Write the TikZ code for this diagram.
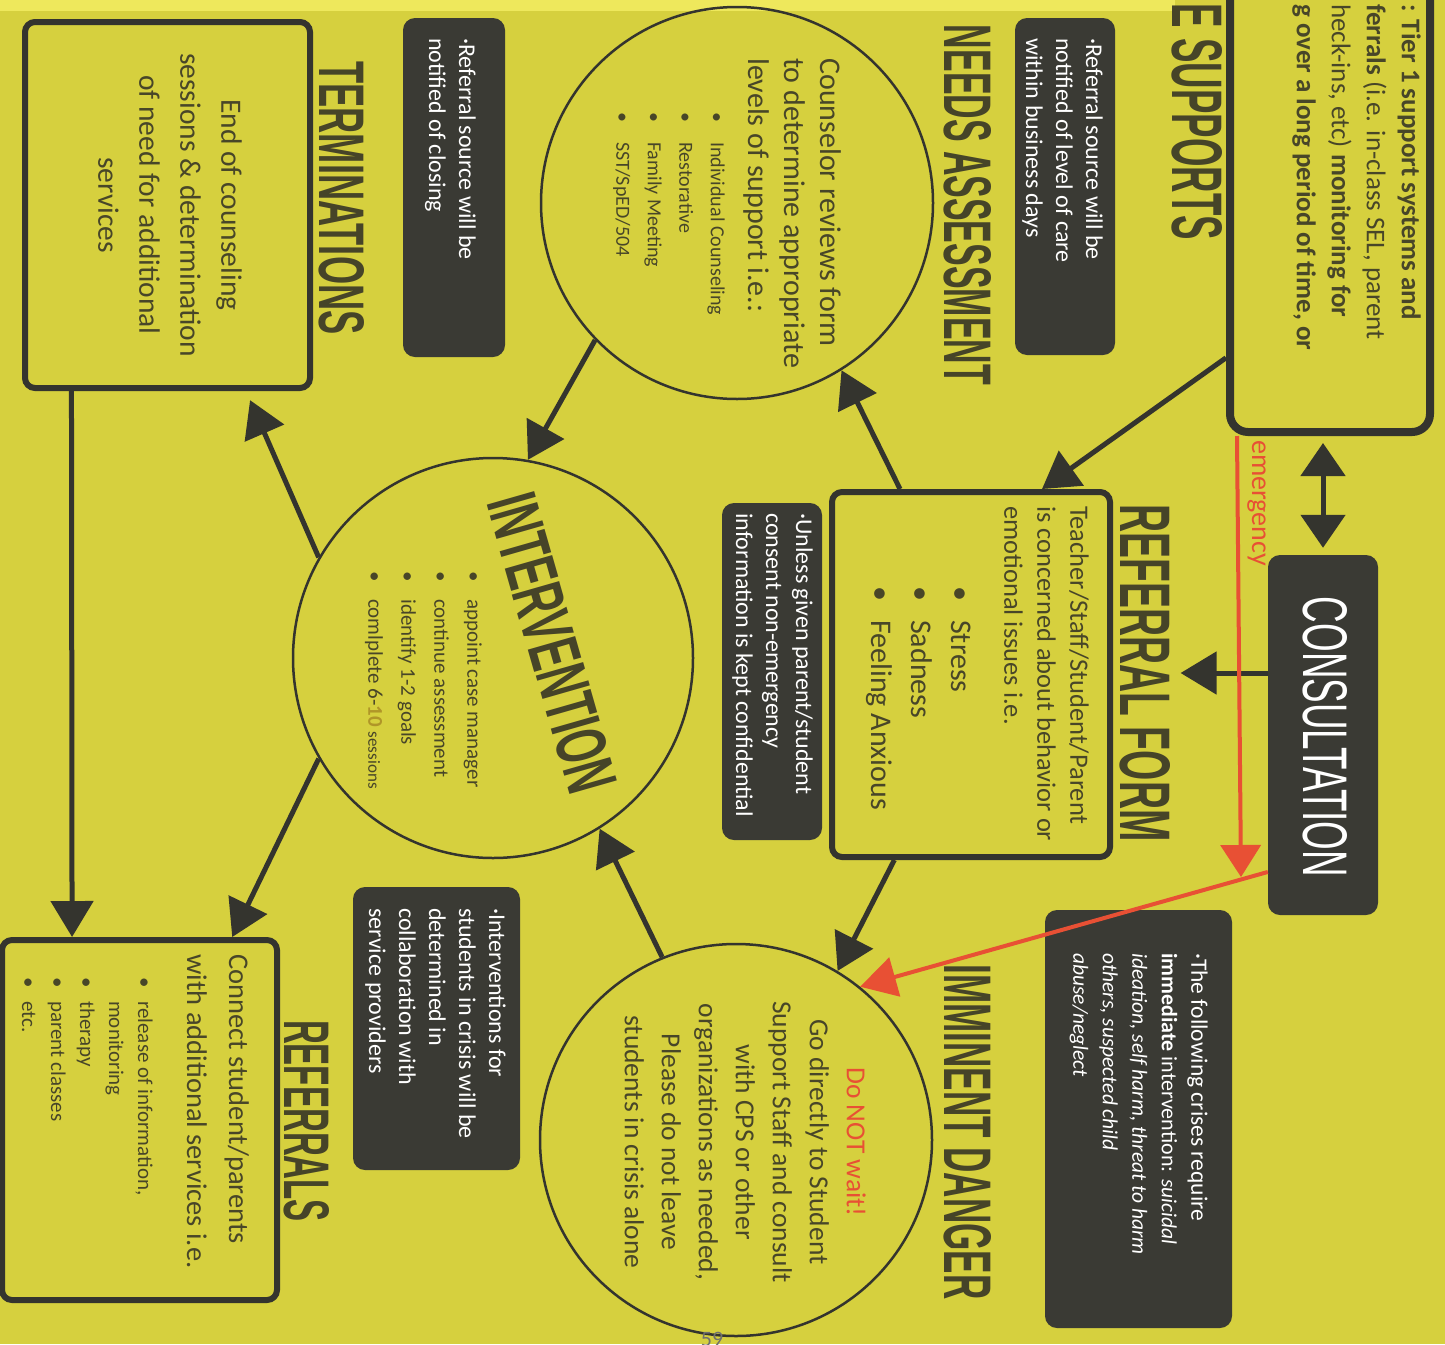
\documentclass[tikz,border=0pt]{standalone}
\usepackage{fontspec}
\setmainfont{Carlito}
\newfontfamily\headfont{Liberation Sans}
\usetikzlibrary{arrows.meta,calc,positioning}

\definecolor{paper}{RGB}{214,208,62}
\definecolor{paperhi}{RGB}{238,232,92}
\definecolor{ink}{RGB}{52,52,46}
\definecolor{textink}{RGB}{72,70,40}
\definecolor{headink}{RGB}{70,68,40}
\definecolor{notefill}{RGB}{58,58,52}
\definecolor{alarm}{RGB}{232,80,52}
\definecolor{tenink}{RGB}{176,150,40}

\newcommand{\hd}[3]{\resizebox{#1}{#2}{\headfont\bfseries #3}}
\newcommand{\bul}[1]{\makebox[#1][l]{\textbullet}}
\newcommand{\crisisit}[1]{{\fontsize{21.5pt}{29.5pt}\selectfont\itshape #1}}

\begin{document}
\begin{tikzpicture}[x=1pt, y=-1pt,
    frame/.style={draw=ink, line width=6pt, rounded corners=10pt, inner sep=0pt},
    note/.style={fill=notefill, rounded corners=12pt, inner sep=0pt},
    hub/.style={circle, draw=ink, line width=2.5pt, inner sep=0pt, minimum size=392pt},
    vtext/.style={rotate=-90, inner sep=0pt, anchor=north west, align=left, text=textink},
    ntext/.style={vtext, text=white},
    head/.style={rotate=-90, inner sep=0pt, text=headink},
    flow/.style={draw=ink, line width=5pt, -{Triangle[length=36pt,width=42pt]}},
    flowboth/.style={draw=ink, line width=5pt, {Triangle[length=33pt,width=44pt]}-{Triangle[length=33pt,width=44pt]}},
    alert/.style={draw=alarm, line width=4pt, -{Triangle[length=32pt,width=40pt]}}]

    % page
    \useasboundingbox (0,0) rectangle (1445,1344);
    \fill[paper] (0,0) rectangle (1445,1344);
    \fill[paperhi] (0,0) rectangle (1175,11);

    % boxes
    \node[frame, line width=8pt, rounded corners=18pt, minimum width=200pt, minimum height=452pt] (tier) at (1330,206) {};
    \node[frame, minimum width=278pt, minimum height=365pt] (form) at (971,674.5) {};
    \node[frame, minimum width=285pt, minimum height=366pt] (term) at (167.5,205) {};
    \node[frame, minimum width=275pt, minimum height=360pt] (refs) at (139.5,1120) {};
    \node[note, minimum width=110pt, minimum height=360pt] (consult) at (1323,735) {};

    % circles
    \node[hub] (needs) at (737,203) {};
    \node[hub, minimum size=400pt] (interv) at (493,658) {};
    \node[hub] (immi) at (736,1140) {};

    % dark notes
    \node[note, minimum width=100pt, minimum height=337pt] (carenote) at (1065,186.5) {};
    \node[note, minimum width=102pt, minimum height=339pt] (closenote) at (454,187.5) {};
    \node[note, minimum width=100pt, minimum height=337pt] (consentnote) at (772,671.5) {};
    \node[note, minimum width=187pt, minimum height=418pt] (crisisnote) at (1138.5,1119) {};
    \node[note, minimum width=167pt, minimum height=283pt] (collabnote) at (436.5,1028.5) {};

    % headings
    \node[head] (supphead) at (1197,122) {\hd{236pt}{50pt}{E SUPPORTS}};
    \node[head] (needshead) at (968,205) {\hd{360pt}{47pt}{NEEDS ASSESSMENT}};
    \node[head] (formhead) at (1145,673) {\hd{337pt}{50pt}{REFERRAL FORM}};
    \node[head] (dangerhead) at (968,1132) {\hd{335pt}{47pt}{IMMINENT DANGER}};
    \node[head] (termhead) at (342,198) {\hd{273pt}{45pt}{TERMINATIONS}};
    \node[head] (refshead) at (307,1121) {\hd{202pt}{45pt}{REFERRALS}};
    \node[head, rotate=16] (intervhead) at (552,643) {\hd{306pt}{50pt}{INTERVENTION}};
    \node[head, text=white] (consulthead) at (1325,737) {\resizebox{280pt}{44pt}{\headfont CONSULTATION}};

    % texts
    \node[vtext, font=\fontsize{27pt}{35pt}\selectfont] (tiertext) at (1421,4)
        {\textbf{: Tier 1 support systems and}\\ \textbf{ferrals} (i.e. in-class SEL, parent\\ heck-ins, etc) \textbf{monitoring for}\\ \textbf{g over a long period of time, or}};
    \node[ntext, font=\fontsize{24pt}{30pt}\selectfont] (caretext) at (1103,38)
        {·Referral source will be\\ notified of level of care\\ within business days};
    \node[vtext, font=\fontsize{30pt}{36pt}\selectfont] (needstext) at (842,58)
        {Counselor reviews form\\ to determine appropriate\\ levels of support i.e.:};
    \node[vtext, font=\fontsize{20pt}{31.5pt}\selectfont] (needslist) at (725,112)
        {\bul{30pt}Individual Counseling\\ \bul{30pt}Restorative\\ \bul{30pt}Family Meeting\\ \bul{30pt}SST/SpED/504};
    \node[vtext, font=\fontsize{26.5pt}{33pt}\selectfont] (formtext) at (1089,506)
        {Teacher/Staff/Student/Parent\\ is concerned about behavior or\\ emotional issues i.e.};
    \node[vtext, font=\fontsize{30pt}{40pt}\selectfont] (formlist) at (971,586)
        {\bul{34pt}Stress\\ \bul{34pt}Sadness\\ \bul{34pt}Feeling Anxious};
    \node[ntext, font=\fontsize{24pt}{30pt}\selectfont] (consenttext) at (813,513)
        {·Unless given parent/student\\ consent non-emergency\\ information is kept confidential};
    \node[ntext, font=\fontsize{24pt}{30pt}\selectfont] (closetext) at (476,38)
        {·Referral source will be\\ notified of closing};
    \node[vtext, anchor=north, align=center, font=\fontsize{29.5pt}{41pt}\selectfont] (termtext) at (242,205)
        {End of counseling\\ sessions \& determination\\ of need for additional\\ services};
    \node[vtext, font=\fontsize{21pt}{33pt}\selectfont] (intervlist) at (482,571)
        {\bul{28pt}appoint case manager\\ \bul{28pt}continue assessment\\ \bul{28pt}identify 1-2 goals\\ \bul{28pt}comlplete 6-{\bfseries\color{tenink}10} {\fontsize{17pt}{33pt}\selectfont sessions}};
    \node[vtext, anchor=north, align=center, font=\fontsize{27.5pt}{37pt}\selectfont] (dangertext) at (866,1142)
        {{\color{alarm}Do NOT wait!}\\ Go directly to Student\\ Support Staff and consult\\ with CPS or other\\ organizations as needed,\\ Please do not leave\\ students in crisis alone};
    \node[ntext, font=\fontsize{23.5pt}{29.5pt}\selectfont] (crisistext) at (1208,953)
        {·The following crises require\\ {\fontsize{22pt}{29.5pt}\selectfont\textbf{immediate} intervention:} \crisisit{suicidal}\\ \crisisit{ideation, self harm, threat to harm}\\ \crisisit{others, suspected child}\\ \crisisit{abuse/neglect}};
    \node[ntext, font=\fontsize{24pt}{30pt}\selectfont] (collabtext) at (506,908)
        {·Interventions for\\ students in crisis will be\\ determined in\\ collaboration with\\ service providers};
    \node[vtext, font=\fontsize{28.5pt}{42pt}\selectfont] (refstext) at (249,954)
        {Connect student/parents\\ with additional services i.e.};
    \node[vtext, font=\fontsize{21pt}{29pt}\selectfont] (refslist) at (153,977)
        {\bul{24pt}release of information,\\ \hspace*{24pt}monitoring\\ \bul{24pt}therapy\\ \bul{24pt}parent classes\\ \bul{24pt}etc.};
    \node[vtext, text=alarm, font=\fontsize{28pt}{28pt}\selectfont] (emgtext) at (1266,440) {emergency};
    \node[text=ink!70, inner sep=0pt, font=\fontsize{22pt}{22pt}\selectfont] (pagenum) at (712,1339) {59};

    % connectors
    \draw[flowboth, shorten <=7pt, shorten >=7pt] (tier.south -| consult.north) -- (consult.north);
    \draw[flow, shorten >=10pt] (consult.west |- formhead.north) -- (formhead.north);
    \draw[flow] ($(tier.south west)!0.17!(tier.north west)$) -- ($(form.north west)!0.75!(form.north east)$);
    \draw[flow] ($(form.north west)!0.25!(form.north east)$) -- (needs.-58);
    \draw[flow] ($(form.south west)!0.23!(form.south east)$) -- (immi.59);
    \draw[flow] (needs.-136) -- (interv.80);
    \draw[flow] (immi.112) -- (interv.-58);
    \draw[flow, shorten >=10pt] (interv.150) -- ($(term.south west)!0.77!(term.south east)$);
    \draw[flow] (interv.-150) -- ($(refs.north west)!0.83!(refs.north east)$);
    \draw[flow] ($(term.south west)!0.17!(term.south east)$) -- ($(refs.north west)!0.26!(refs.north east)$);

    % emergency route
    \coordinate (emgtip) at (1241,877);
    \draw[alert] ($(tier.south west)+(11,0)$) -- (emgtip);
    \draw[alert, -{Triangle[length=36pt,width=40pt]}] ($(consult.south west)!0.12!(consult.north west)$) -- (immi.51);
\end{tikzpicture}
\end{document}
